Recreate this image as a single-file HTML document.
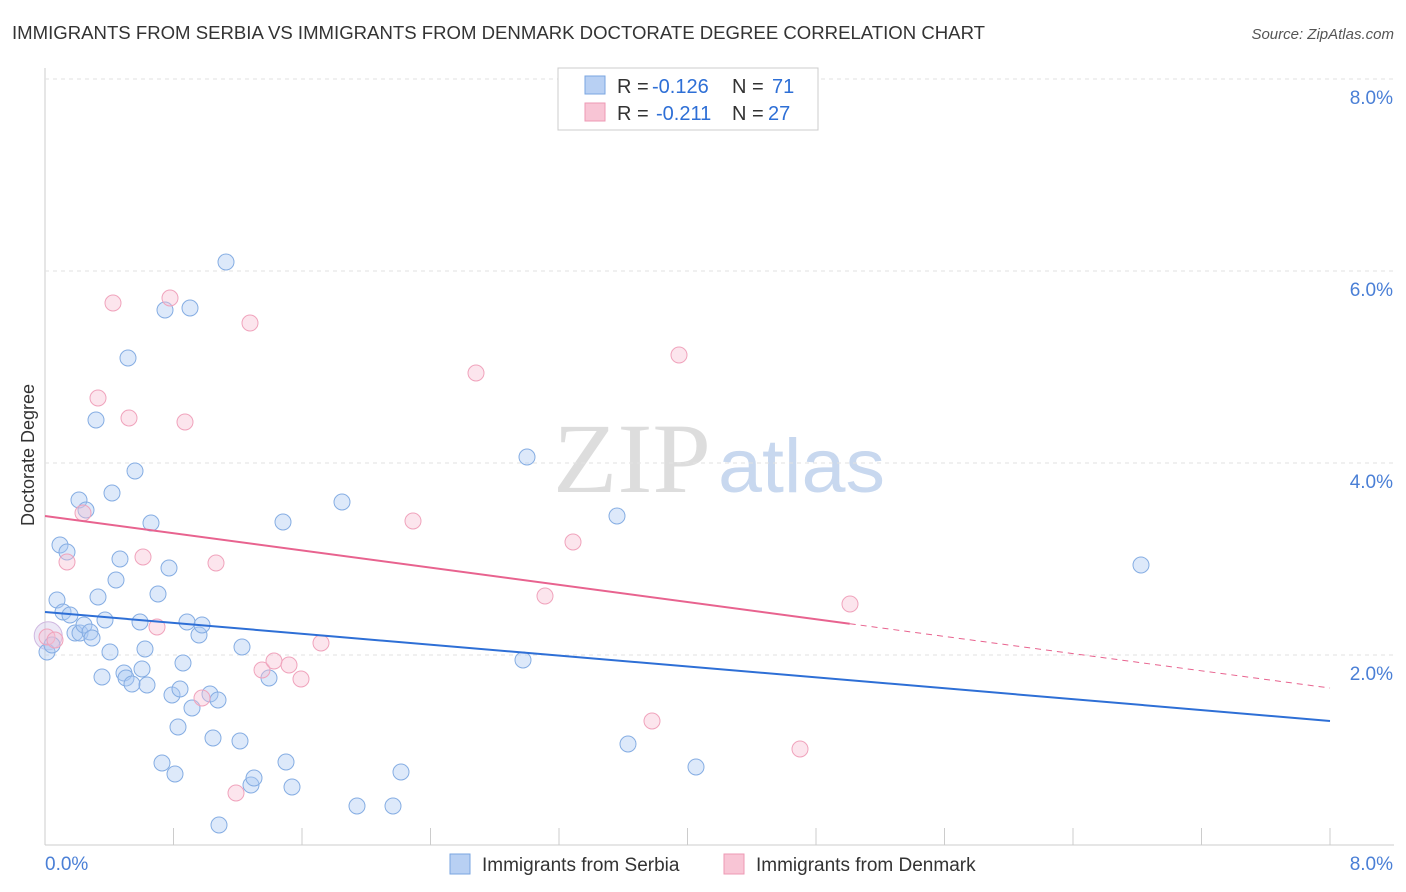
<!DOCTYPE html>
<html><head><meta charset="utf-8"><style>
body{margin:0;background:#fff;font-family:"Liberation Sans",sans-serif;}
#wrap{position:relative;width:1406px;height:892px;overflow:hidden;}
</style></head><body>
<div id="wrap">
<svg id="svg" width="1406" height="892" xmlns="http://www.w3.org/2000/svg">
<text x="12" y="39" font-size="18" fill="#333" textLength="973" lengthAdjust="spacingAndGlyphs">IMMIGRANTS FROM SERBIA VS IMMIGRANTS FROM DENMARK DOCTORATE DEGREE CORRELATION CHART</text>
<text x="1394" y="39" font-size="15" fill="#555" font-style="italic" text-anchor="end">Source: ZipAtlas.com</text>
<text x="34" y="455" font-size="18" fill="#333" text-anchor="middle" transform="rotate(-90 34 455)">Doctorate Degree</text>
<text x="553" y="492" font-size="100" fill="#ddd" font-family="Liberation Serif,serif" textLength="158" lengthAdjust="spacingAndGlyphs">ZIP</text>
<text x="718" y="492" font-size="76" fill="#c8d8ef" textLength="167" lengthAdjust="spacingAndGlyphs">atlas</text>
<g id="grid"></g><g id="pts"></g><g id="lines"></g>
<g>
<rect x="558" y="68" width="260" height="62" fill="#fff" stroke="#ccc"/>
<rect x="585" y="76" width="20" height="18" fill="#b8d0f3" stroke="#7aa6e0"/>
<text x="617" y="93" font-size="20" fill="#333">R =</text>
<text x="652" y="93" font-size="20" fill="#2e6fd6">-0.126</text>
<text x="732" y="93" font-size="20" fill="#333">N =</text>
<text x="772" y="93" font-size="20" fill="#2e6fd6">71</text>
<rect x="585" y="103" width="20" height="18" fill="#f8c5d5" stroke="#ee99b4"/>
<text x="617" y="120" font-size="20" fill="#333">R =</text>
<text x="656" y="120" font-size="20" fill="#2e6fd6">-0.211</text>
<text x="732" y="120" font-size="20" fill="#333">N =</text>
<text x="768" y="120" font-size="20" fill="#2e6fd6">27</text>
</g>
<g>
<rect x="450" y="854" width="20" height="20" fill="#b8d0f3" stroke="#7aa6e0"/>
<text x="482" y="871" font-size="19" fill="#333">Immigrants from Serbia</text>
<rect x="724" y="854" width="20" height="20" fill="#f8c5d5" stroke="#ee99b4"/>
<text x="756" y="871" font-size="19" fill="#333">Immigrants from Denmark</text>
</g>
</svg>
</div>
<script>
const yTicks=[2,4,6,8];
const xTickLabels=["0.0%","8.0%"];
const serbia=[[47,652],[52,645],[57,600],[60,545],[63,612],[67,552],[70,615],[75,633],[79,500],[80,633],[84,625],[86,510],[90,632],[92,638],[96,420],[98,597],[102,677],[105,620],[110,652],[112,493],[116,580],[120,559],[124,673],[126,678],[128,358],[132,684],[135,471],[140,622],[142,669],[145,649],[147,685],[151,523],[158,594],[162,763],[165,310],[169,568],[172,695],[175,774],[178,727],[180,689],[183,663],[187,622],[190,308],[192,708],[199,635],[202,625],[210,694],[213,738],[218,700],[219,825],[226,262],[240,741],[242,647],[251,785],[254,778],[269,678],[283,522],[286,762],[292,787],[342,502],[357,806],[393,806],[401,772],[523,660],[527,457],[617,516],[628,744],[696,767],[1141,565]].map(p=>[(p[0]-45)/1285*8,(847-p[1])/96]);
const denmark=[[47,637],[55,640],[67,562],[83,513],[98,398],[113,303],[129,418],[143,557],[157,627],[170,298],[185,422],[202,698],[216,563],[236,793],[250,323],[262,670],[274,661],[289,665],[301,679],[321,643],[413,521],[476,373],[545,596],[573,542],[652,721],[679,355],[800,749],[850,604]].map(p=>[(p[0]-45)/1285*8,(847-p[1])/96]);
const serbiaTrend=[2.448,1.313];
const denmarkTrend=[3.448,1.656];
const denmarkSolidEnd=5.01;
const NS="http://www.w3.org/2000/svg";
const X=v=>45+v/8*1285, Y=v=>847-v*96;
function mk(t,a,parent){const e=document.createElementNS(NS,t);for(const k in a)e.setAttribute(k,a[k]);document.getElementById(parent).appendChild(e);return e;}
let e;
e=mk('line',{x1:45,y1:845,x2:1394,y2:845,stroke:'#ccc'},'grid');


e=mk('line',{x1:45,y1:68,x2:45,y2:845,stroke:'#ccc'},'grid');


for(let i=0;i<=10;i++){e=mk('line',{x1:X(i*0.8),y1:845,x2:X(i*0.8),y2:828,stroke:'#ccc'},'grid');

}
yTicks.forEach(t=>{e=mk('line',{x1:45,y1:Y(t),x2:1394,y2:Y(t),stroke:'#e2e2e2','stroke-dasharray':'4 4'},'grid');


e=mk('text',{x:1393,y:Y(t)+25,'font-size':19,fill:'#4a7fd6','text-anchor':'end'},'grid');e.textContent=t.toFixed(1)+'%';

});
e=mk('text',{x:45,y:870,'font-size':19,fill:'#4a7fd6'},'grid');e.textContent=xTickLabels[0];


e=mk('text',{x:1393,y:870,'font-size':19,fill:'#4a7fd6','text-anchor':'end'},'grid');e.textContent=xTickLabels[1];


e=mk('circle',{cx:X(0.02),cy:Y(2.2),r:14,fill:'rgba(200,190,230,0.35)',stroke:'#d0b8e0','stroke-width':1},'pts');


serbia.forEach(p=>{e=mk('circle',{cx:X(p[0]),cy:Y(p[1]),r:8,fill:'rgba(170,200,242,0.4)',stroke:'#85ade3','stroke-width':1},'pts');

});
denmark.forEach(p=>{e=mk('circle',{cx:X(p[0]),cy:Y(p[1]),r:8,fill:'rgba(248,190,210,0.4)',stroke:'#f0a3bc','stroke-width':1},'pts');

});
e=mk('line',{x1:X(0),y1:Y(serbiaTrend[0]),x2:X(8),y2:Y(serbiaTrend[1]),stroke:'#2e6fd6','stroke-width':2},'lines');


const dy=x=>denmarkTrend[0]+(denmarkTrend[1]-denmarkTrend[0])*x/8;
e=mk('line',{x1:X(0),y1:Y(dy(0)),x2:X(denmarkSolidEnd),y2:Y(dy(denmarkSolidEnd)),stroke:'#e8638f','stroke-width':2},'lines');


e=mk('line',{x1:X(denmarkSolidEnd),y1:Y(dy(denmarkSolidEnd)),x2:X(8),y2:Y(dy(8)),stroke:'#e8638f','stroke-width':1,'stroke-dasharray':'6 5'},'lines');


</script>
</body></html>
